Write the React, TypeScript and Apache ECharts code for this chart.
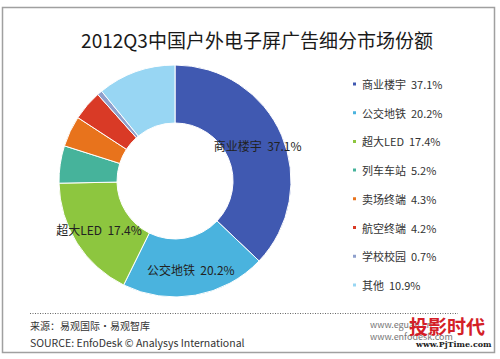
import React, { useEffect, useRef } from "react";
import * as echarts from "echarts";

const categories = ["商业楼宇", "公交地铁", "超大LED", "列车车站", "卖场终端", "航空终端", "学校校园", "其他"];
const values = [37.1, 20.2, 17.4, 5.2, 4.3, 4.2, 0.7, 10.9];
const colors = ["#4059B1", "#4AB3DE", "#8DC63F", "#46B39B", "#E8731C", "#D93A26", "#8FA0CC", "#98D6F3"];
const shownLabels = ["商业楼宇", "公交地铁", "超大LED"];
const titleText = "2012Q3中国户外电子屏广告细分市场份额";
const sourceCn = "来源：易观国际·易观智库";
const sourceEn = "SOURCE: EnfoDesk © Analysys International";

const FONT = '"Noto Sans CJK SC", "Noto Sans", sans-serif';

export default function App() {
  const ref = useRef<HTMLDivElement>(null);
  useEffect(() => {
    if (!ref.current) return;
    const chart = echarts.init(ref.current, null, { renderer: "svg" });
    const valueOf: Record<string, number> = {};
    categories.forEach((c, i) => (valueOf[c] = values[i]));
    chart.setOption({
      animation: false,
      backgroundColor: "#ffffff",
      color: colors,
      title: {
        text: titleText,
        left: 252,
        textAlign: "center",
        top: 25,
        textStyle: { fontFamily: FONT, fontSize: 19, fontWeight: "normal", color: "#1a1a1a" },
      },
      legend: {
        orient: "vertical",
        left: 346,
        top: 72,
        icon: "rect",
        itemWidth: 5,
        itemHeight: 5,
        itemGap: 14.7,
        data: categories,
        formatter: (name: string) => `${name}  ${valueOf[name].toFixed(1)}%`,
        textStyle: { fontFamily: FONT, fontSize: 11, color: "#333", lineHeight: 14 },
      },
      series: [
        {
          type: "pie",
          center: [175, 181],
          radius: [58, 116],
          startAngle: 90,
          clockwise: true,
          avoidLabelOverlap: false,
          itemStyle: { borderColor: "#ffffff", borderWidth: 1 },
          label: { show: false },
          labelLine: { show: false },
          data: categories.map((c, i) => ({
            name: c,
            value: values[i],
            label: shownLabels.includes(c)
              ? {
                  show: true,
                  position: "inside",
                  formatter: `${c}  ${values[i].toFixed(1)}%`,
                  fontFamily: FONT,
                  fontSize: 12,
                  color: "#222",
                }
              : { show: false },
          })),
        },
      ],
      graphic: [
        {
          type: "rect",
          shape: { x: 2.5, y: 7.5, width: 492, height: 345 },
          style: { fill: "none", stroke: "#a0a0a0", lineWidth: 1.5 },
          silent: true,
        },
        {
          type: "line",
          shape: { x1: 30, y1: 313.5, x2: 458, y2: 313.5 },
          style: { stroke: "#666", lineWidth: 1, lineDash: [1, 1.5] },
        },
        {
          type: "text",
          x: 30,
          y: 325,
          style: { text: sourceCn, fontFamily: FONT, fontSize: 10, fill: "#333", verticalAlign: "middle" },
        },
        {
          type: "text",
          x: 30,
          y: 342,
          style: { text: sourceEn, fontFamily: FONT, fontSize: 10.5, fill: "#333", verticalAlign: "middle" },
        },
        {
          type: "text",
          x: 370,
          y: 324,
          style: { text: "www.eguan.cn", fontFamily: FONT, fontSize: 9, fill: "#777", verticalAlign: "middle" },
        },
        {
          type: "text",
          x: 370,
          y: 336,
          style: { text: "www.enfodesk.com", fontFamily: FONT, fontSize: 9, fill: "#777", verticalAlign: "middle" },
        },
        {
          type: "text",
          x: 409,
          y: 325,
          style: {
            text: "投影时代",
            fontFamily: FONT,
            fontSize: 19,
            fontWeight: "bold",
            fill: "#d42027",
            verticalAlign: "middle",
          },
        },
        {
          type: "text",
          x: 416,
          y: 344,
          style: {
            text: "www.PjTime.com",
            fontFamily: '"DejaVu Serif", serif',
            fontSize: 8,
            fontWeight: "bold",
            fill: "#222",
            verticalAlign: "middle",
          },
        },
      ],
    });
    return () => chart.dispose();
  }, []);
  return (
    <div
      ref={ref}
      style={{ position: "fixed", left: 0, top: 0, width: 500, height: 359, background: "#fff" }}
    />
  );
}
